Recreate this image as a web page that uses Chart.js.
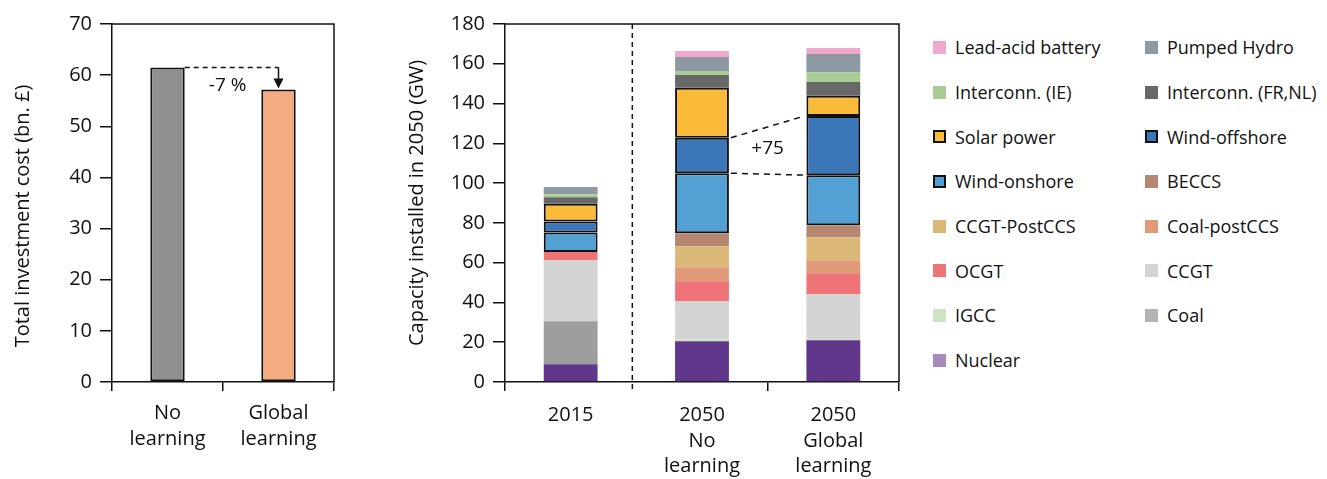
<!DOCTYPE html>
<html>
<head>
<meta charset="utf-8">
<script src="https://cdn.jsdelivr.net/npm/chart.js@4"></script>
<style>
  body { margin: 0; background: #fff; width: 1327px; height: 479px; position: relative; overflow: hidden; font-family: "Open Sans", sans-serif; }
  #costChart { position: absolute; left: 0; top: 0; }
  #capChart { position: absolute; left: 390px; top: 0; }
  #legend { position: absolute; left: 933px; top: 25px; display: grid; grid-template-columns: 212px 190px; grid-auto-rows: 44.7px; }
  .item { display: flex; align-items: center; font-size: 18px; color: #111; white-space: nowrap; height: 44.7px; }
  .box { width: 13px; height: 13px; margin-right: 9px; box-sizing: border-box; flex: none; }
</style>
</head>
<body>
<canvas id="costChart" width="345" height="479"></canvas>
<canvas id="capChart" width="520" height="479"></canvas>
<div id="legend"></div>
<script>
// left chart: total investment cost
const costLabels = [['No', 'learning'], ['Global', 'learning']];
const costValues = [61.5, 57.2];
const costColors = ['#8f8f8f', '#f4ab80'];

// right chart: installed capacity, bottom to top
const capLabels = [['2015'], ['2050', 'No', 'learning'], ['2050', 'Global', 'learning']];
const techNames = ['Nuclear', 'Coal', 'IGCC', 'CCGT', 'OCGT', 'Coal-postCCS', 'CCGT-PostCCS', 'BECCS',
  'Wind-onshore', 'Wind-offshore', 'Solar power', 'Interconn. (FR,NL)', 'Interconn. (IE)', 'Pumped Hydro', 'Lead-acid battery'];
const nuclear = [8.9, 20.5, 21.0];
const coal = [21.6, 0, 0];
const igcc = [0, 1.0, 0.5];
const ccgt = [30.7, 19.1, 22.6];
const ocgt = [4.2, 10.1, 10.6];
const coalPostCCS = [0, 7.0, 6.5];
const ccgtPostCCS = [0, 10.6, 11.6];
const beccs = [0, 6.5, 6.0];
const windOnshore = [9.8, 30.2, 25.2];
const windOffshore = [5.5, 17.8, 29.7];
const solar = [8.9, 25.2, 10.2];
const interFRNL = [3.3, 6.3, 6.9];
const interIE = [1.5, 2.1, 5.0];
const pumpedHydro = [3.6, 7.0, 9.1];
const leadAcid = [0, 3.0, 3.0];
const techValues = [nuclear, coal, igcc, ccgt, ocgt, coalPostCCS, ccgtPostCCS, beccs,
  windOnshore, windOffshore, solar, interFRNL, interIE, pumpedHydro, leadAcid];
const techColors = ['#60378a', '#9e9e9e', '#cce3c4', '#d4d4d4', '#ef7478', '#e09a78', '#dbb878', '#b58770',
  '#52a0d4', '#3a76b8', '#fbbb38', '#686868', '#a8cc94', '#8e9aa3', '#f0a8cc'];
const legendColors = ['#a78bbd', '#b3b3b3', '#cce3c4', '#d4d4d4', '#ef7478', '#e09a78', '#dbb878', '#b58770',
  '#52a0d4', '#3a76b8', '#fbbb38', '#686868', '#a8cc94', '#8e9aa3', '#f0a8cc'];
const boxed = ['Wind-onshore', 'Wind-offshore', 'Solar power'];

const FONT = '"Open Sans", sans-serif';

// draws the top and right border of the plot area
const frame = {
  id: 'frame',
  afterDraw(chart) {
    const { ctx, chartArea: a } = chart;
    ctx.save();
    ctx.strokeStyle = '#111';
    ctx.lineWidth = 1.5;
    ctx.beginPath();
    ctx.moveTo(a.left, a.top);
    ctx.lineTo(a.right, a.top);
    ctx.lineTo(a.right, a.bottom);
    ctx.stroke();
    ctx.restore();
  }
};

const costNote = {
  id: 'costNote',
  afterDatasetsDraw(chart) {
    const ctx = chart.ctx;
    const bars = chart.getDatasetMeta(0).data;
    const b0 = bars[0], b1 = bars[1];
    ctx.save();
    ctx.strokeStyle = '#111';
    ctx.lineWidth = 1.5;
    ctx.setLineDash([5, 4]);
    ctx.beginPath();
    ctx.moveTo(b0.x + b0.width / 2, b0.y);
    ctx.lineTo(b1.x, b0.y);
    ctx.stroke();
    ctx.setLineDash([]);
    ctx.beginPath();
    ctx.moveTo(b1.x, b0.y);
    ctx.lineTo(b1.x, b1.y - 8);
    ctx.stroke();
    ctx.fillStyle = '#111';
    ctx.beginPath();
    ctx.moveTo(b1.x - 5, b1.y - 11);
    ctx.lineTo(b1.x + 5, b1.y - 11);
    ctx.lineTo(b1.x, b1.y - 1);
    ctx.closePath();
    ctx.fill();
    ctx.font = '19px ' + FONT;
    ctx.textAlign = 'center';
    ctx.textBaseline = 'middle';
    ctx.fillText('-7 %', (b0.x + b0.width / 2 + b1.x) / 2 - 4, b0.y + 18);
    ctx.restore();
  }
};

function stackTop(seriesIndex, cat) {
  let s = 0;
  for (let i = 0; i <= seriesIndex; i++) s += techValues[i][cat];
  return s;
}

const capNote = {
  id: 'capNote',
  afterDatasetsDraw(chart) {
    const ctx = chart.ctx;
    const xs = chart.scales.x, ys = chart.scales.y;
    const bar1 = chart.getDatasetMeta(0).data[1];
    const bar2 = chart.getDatasetMeta(0).data[2];
    const x1 = bar1.x + bar1.width / 2 + 2;
    const x2 = bar2.x - bar2.width / 2 - 2;
    const on = techNames.indexOf('Wind-onshore');
    const off = techNames.indexOf('Wind-offshore');
    const lines = [[stackTop(off, 1), stackTop(off, 2)], [stackTop(on, 1), stackTop(on, 2)]];
    ctx.save();
    ctx.strokeStyle = '#111';
    ctx.lineWidth = 1.5;
    ctx.setLineDash([6, 5]);
    lines.forEach(([a, b]) => {
      ctx.beginPath();
      ctx.moveTo(x1, ys.getPixelForValue(a));
      ctx.lineTo(x2, ys.getPixelForValue(b));
      ctx.stroke();
    });
    // separator between 2015 and 2050
    const xs0 = (xs.getPixelForValue(0) + xs.getPixelForValue(1)) / 2 - 4;
    ctx.setLineDash([5, 4]);
    ctx.beginPath();
    ctx.moveTo(xs0, chart.chartArea.top);
    ctx.lineTo(xs0, chart.chartArea.bottom + 11);
    ctx.stroke();
    ctx.setLineDash([]);
    const mid = (lines[0][0] + lines[0][1] + lines[1][0] + lines[1][1]) / 4;
    ctx.fillStyle = '#111';
    ctx.font = '19px ' + FONT;
    ctx.textAlign = 'center';
    ctx.textBaseline = 'middle';
    ctx.fillText('+75', (x1 + x2) / 2, ys.getPixelForValue(mid) - 2);
    ctx.restore();
  }
};

function axisX(padding) {
  return {
    grid: { drawOnChartArea: false, offset: true, tickLength: 9, tickColor: '#111', lineWidth: 1.5 },
    border: { color: '#111', width: 1.5 },
    ticks: { color: '#111', font: { family: FONT, size: 20, lineHeight: 1.27 }, padding: padding, maxRotation: 0 },
    afterFit: s => { s.height = 97; }
  };
}

function axisY(max, step, title, width, titlePad) {
  return {
    min: 0, max: max,
    grid: { drawOnChartArea: false, tickLength: 12, tickColor: '#111', lineWidth: 1.5 },
    border: { color: '#111', width: 1.5 },
    ticks: { stepSize: step, color: '#111', font: { family: FONT, size: 20 }, padding: 8 },
    title: { display: true, text: title, color: '#111', font: { family: FONT, size: 20 }, padding: { top: titlePad, bottom: 0 } },
    afterFit: s => { s.width = width; }
  };
}

new Chart(document.getElementById('costChart'), {
  type: 'bar',
  data: {
    labels: costLabels,
    datasets: [{
      data: costValues,
      backgroundColor: costColors,
      borderColor: '#111',
      borderWidth: 2,
      borderSkipped: false,
      categoryPercentage: 1,
      barPercentage: 0.31
    }]
  },
  options: {
    responsive: false,
    animation: false,
    layout: { padding: { top: 24, right: 11, left: 0, bottom: 0 } },
    plugins: { legend: { display: false }, tooltip: { enabled: false } },
    scales: {
      x: axisX(10),
      y: axisY(70, 10, 'Total investment cost (bn. £)\u00a0\u00a0\u00a0\u00a0\u00a0', 112, 11)
    }
  },
  plugins: [frame, costNote]
});

const capDatasets = techNames.map((name, i) => {
  const box = boxed.includes(name);
  return {
    label: name,
    data: techValues[i],
    backgroundColor: techColors[i],
    borderColor: '#111',
    borderWidth: box ? 2 : 0,
    borderSkipped: false,
    categoryPercentage: 1,
    barPercentage: 0.41
  };
});

const capX = axisX(12);
capX.stacked = true;
// no category tick where the dashed separator sits
capX.grid.tickColor = ctx => ctx.index === 1 ? 'rgba(0,0,0,0)' : '#111';

new Chart(document.getElementById('capChart'), {
  type: 'bar',
  data: { labels: capLabels, datasets: capDatasets },
  options: {
    responsive: false,
    animation: false,
    layout: { padding: { top: 24, right: 11, left: 0, bottom: 0 } },
    plugins: { legend: { display: false }, tooltip: { enabled: false } },
    scales: {
      x: capX,
      y: Object.assign(axisY(180, 20, 'Capacity installed in 2050 (GW)', 115, 15), { stacked: true })
    }
  },
  plugins: [frame, capNote]
});

// legend: two columns, top of the stack first
const legend = document.getElementById('legend');
const order = techNames.map((n, i) => i).reverse();
order.forEach(i => {
  const item = document.createElement('div');
  item.className = 'item';
  const box = document.createElement('span');
  box.className = 'box';
  box.style.background = legendColors[i];
  if (boxed.includes(techNames[i])) box.style.border = '2px solid #111';
  const label = document.createElement('span');
  label.textContent = techNames[i];
  item.appendChild(box);
  item.appendChild(label);
  legend.appendChild(item);
});
</script>
</body>
</html>
